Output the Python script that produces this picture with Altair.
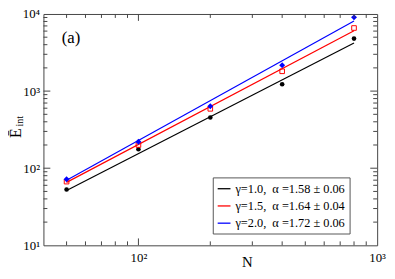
import altair as alt
import pandas as pd

# ---- data ----
N = [50, 100, 200, 400, 800]
E_g10 = [53, 176, 454, 1225, 4800]
E_g15 = [67, 200, 589, 1807, 6580]
E_g20 = [72, 220, 637, 2168, 9040]

fit_N = [50, 800]
fit_g10 = [51.5, 4200]
fit_g15 = [65.5, 6050]
fit_g20 = [70, 8100]

series_labels = [
    "γ=1.0,\u00a0 α =1.58 ± 0.06",
    "γ=1.5,\u00a0 α =1.64 ± 0.04",
    "γ=2.0,\u00a0 α =1.72 ± 0.06",
]
series_colors = ["#000000", "#ff0000", "#0000ff"]

x_major = [100]
x_minor = [50, 60, 70, 80, 90, 200, 300, 400, 500, 600, 700, 800, 900]
y_major = [100, 1000]
y_minor = [20, 30, 40, 50, 60, 70, 80, 90,
           200, 300, 400, 500, 600, 700, 800, 900,
           2000, 3000, 4000, 5000, 6000, 7000, 8000, 9000]
x_label_values = [100, 1000]
y_label_values = [10, 100, 1000, 10000]

# ---- tables ----
pts = pd.DataFrame({
    "N": N * 3,
    "E": E_g10 + E_g15 + E_g20,
    "s": [series_labels[0]] * 5 + [series_labels[1]] * 5 + [series_labels[2]] * 5,
})
fits = pd.DataFrame({
    "N": fit_N * 3,
    "E": fit_g10 + fit_g15 + fit_g20,
    "s": [series_labels[0]] * 2 + [series_labels[1]] * 2 + [series_labels[2]] * 2,
})

W, H = 339, 235
FONT = "Liberation Serif"
AX = "#444444"

xscale = alt.Scale(type="log", domain=[40, 1000], nice=False)
yscale = alt.Scale(type="log", domain=[10, 10000], nice=False)

x_axis = alt.Axis(values=x_label_values, title=None, ticks=False, domain=False, grid=False,
                  labelExpr="datum.value == 100 ? '10²' : '10³'",
                  labelFont=FONT, labelFontSize=13, labelColor="black", labelPadding=6,
                  labelOverlap=False, labelFlush=False)
y_axis = alt.Axis(values=y_label_values, title=None, ticks=False, domain=False, grid=False,
                  labelExpr="datum.value == 10 ? '10¹' : datum.value == 100 ? '10²' : datum.value == 1000 ? '10³' : '10⁴'",
                  labelFont=FONT, labelFontSize=13, labelColor="black", labelPadding=4,
                  labelOverlap=False, labelFlush=False)

X = alt.X("N:Q", scale=xscale, axis=x_axis)
Y = alt.Y("E:Q", scale=yscale, axis=y_axis)
color = alt.Color("s:N", scale=alt.Scale(domain=series_labels, range=series_colors),
                  legend=alt.Legend(orient="none", legendX=172, legendY=166, title=None,
                                    symbolType="stroke", symbolSize=169, symbolStrokeWidth=1.3,
                                    labelFont=FONT, labelFontSize=12.5, labelColor="black",
                                    labelOffset=4, strokeColor="#555555", fillColor="white",
                                    padding=4, rowPadding=3.5, labelLimit=300))

lines = alt.Chart(fits).mark_line(strokeWidth=1.2).encode(x=X, y=Y, color=color, detail="s:N")

p_black = alt.Chart(pts).transform_filter(alt.datum.s == series_labels[0]).mark_point(
    shape="circle", filled=True, size=22, color="#000000", opacity=1).encode(x=X, y=Y)
p_red = alt.Chart(pts).transform_filter(alt.datum.s == series_labels[1]).mark_point(
    shape="square", filled=False, size=22, color="#ff0000", strokeWidth=1, opacity=1).encode(x=X, y=Y)
p_blue = alt.Chart(pts).transform_filter(alt.datum.s == series_labels[2]).mark_point(
    shape="diamond", filled=True, size=36, color="#0000ff", opacity=1).encode(x=X, y=Y)


def xticks(vals, length, top):
    df = pd.DataFrame({"N": vals})
    if top:
        y0, y1 = 0, length
    else:
        y0, y1 = H, H - length
    return alt.Chart(df).mark_rule(color=AX, strokeWidth=1).encode(
        x=X, y=alt.value(y0), y2=alt.value(y1))


def yticks(vals, length, right):
    df = pd.DataFrame({"E": vals})
    if right:
        x0, x1 = W, W - length
    else:
        x0, x1 = 0, length
    return alt.Chart(df).mark_rule(color=AX, strokeWidth=1).encode(
        y=Y, x=alt.value(x0), x2=alt.value(x1))


ticks = [
    xticks(x_major, 7, False), xticks(x_minor, 4, False),
    xticks(x_major, 7, True), xticks(x_minor, 4, True),
    yticks(y_major, 7, False), yticks(y_minor, 4, False),
    yticks(y_major, 7, True), yticks(y_minor, 4, True),
]

one = alt.Data(values=[{}])
txt_a = alt.Chart(one).mark_text(text="(a)", font=FONT, fontSize=17, color="black",
                                 align="center", baseline="middle").encode(
    x=alt.value(28), y=alt.value(24))
txt_N = alt.Chart(one).mark_text(text="N", font=FONT, fontSize=15, color="black",
                                 align="center", baseline="middle").encode(
    x=alt.value(207), y=alt.value(252))
txt_E = alt.Chart(one).mark_text(text="Ē", font=FONT, fontSize=16, color="black",
                                 align="center", baseline="middle", angle=270).encode(
    x=alt.value(-28), y=alt.value(121))
txt_int = alt.Chart(one).mark_text(text="int", font=FONT, fontSize=10, color="black",
                                   align="center", baseline="middle", angle=270).encode(
    x=alt.value(-24), y=alt.value(109))

chart = alt.layer(
    lines, p_black, p_red, p_blue, *ticks, txt_a, txt_N, txt_E, txt_int
).properties(
    width=W, height=H,
    autosize=alt.AutoSizeParams(type="none"),
    padding={"left": 36, "top": 4, "right": 10, "bottom": 24},
    background="white",
).configure_view(stroke=AX, strokeWidth=1)

chart.save("out.html", embed_options={"renderer": "svg", "actions": False})
